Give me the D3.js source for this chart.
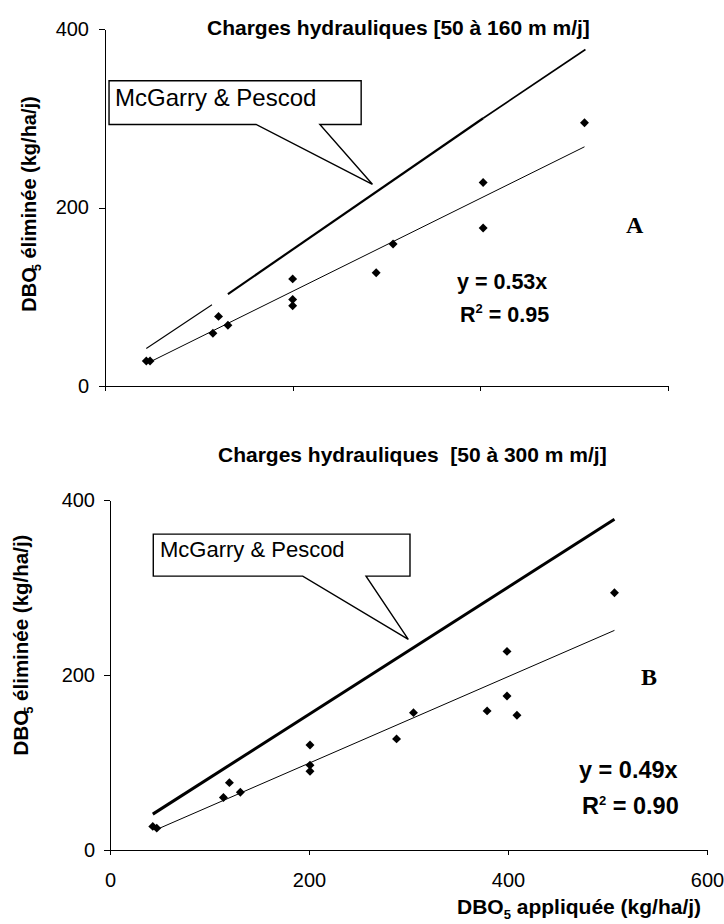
<!DOCTYPE html>
<html><head><meta charset="utf-8">
<script src="https://cdn.jsdelivr.net/npm/d3@7"></script>
<style>
body{margin:0;background:#fff}
svg{display:block}
text{fill:#000}
</style>
</head><body>
<svg id="c" width="724" height="924" font-family='"Liberation Sans",Arial,sans-serif'></svg>
<script>
// ---- data ----
const xTicks = [0, 200, 400, 600];
const yTicks = [0, 200, 400];
const xTickLabels = ["0", "200", "400", "600"];
const yTickLabels = ["0", "200", "400"];

const titleA = "Charges hydrauliques [50 à 160 m m/j]";
const titleB = "Charges hydrauliques  [50 à 300 m m/j]";
const refLabel = "McGarry & Pescod";

// panel A observations (DBO5 appliquée, DBO5 éliminée)
const ptsA_x = [44, 48, 115, 121, 131, 200, 200, 200, 289, 307, 403, 403, 511];
const ptsA_y = [28, 28, 59, 78, 68, 120, 97, 90, 127, 159, 228, 177, 295];
// panel B observations
const ptsB_x = [43, 47, 114, 120, 131, 201, 201, 201, 288, 305, 379, 399, 399, 409, 507];
const ptsB_y = [27, 25, 60, 77, 66, 120, 97, 90, 127, 157, 159, 227, 176, 154, 294];

// fitted lines (endpoints)
const trendA_x = [48, 511], trendA_y = [27, 268];
const trendB_x = [50, 507], trendB_y = [25, 251];

// McGarry & Pescod reference line pieces
const mcgA_x = [44, 114, 131, 403, 512], mcgA_y = [42, 91, 103, 300, 377];
const mcgB_x = [43, 507], mcgB_y = [41, 378];

const eqA = ["y = 0.53x", "0.95"];
const eqB = ["y = 0.49x", "0.90"];

// ---- drawing ----
const svg = d3.select("#c");
const F = '"Liberation Sans",Arial,sans-serif';
const SERIF = '"Liberation Serif","Times New Roman",serif';

function panel(o) {
  const g = svg.append("g");
  const x = d3.scaleLinear().domain([0, 600]).range(o.xr);
  const y = d3.scaleLinear().domain([0, 400]).range(o.yr);

  // axes
  const ya = d3.axisLeft(y).tickValues(yTicks).tickSize(6).tickSizeOuter(0)
    .tickPadding(o.yPad).tickFormat((d, i) => yTickLabels[i]);
  const yg = g.append("g").attr("transform", `translate(${o.xr[0]},0)`).call(ya);
  const xa = d3.axisBottom(x).tickValues(xTicks).tickSize(5).tickSizeOuter(0)
    .tickPadding(18).tickFormat((d, i) => o.xLabels ? xTickLabels[i] : "");
  const xg = g.append("g").attr("transform", `translate(0,${o.yr[0]})`).call(xa);
  [yg, xg].forEach(a => {
    a.attr("font-family", F).attr("font-size", 20);
    a.selectAll("path,line").attr("stroke", "#000").attr("stroke-width", 1).attr("shape-rendering", "crispEdges");
    a.selectAll("text").attr("fill", "#000");
  });

  // reference line pieces
  const line = d3.line().x(d => x(d[0])).y(d => y(d[1]));
  o.mcg.forEach(seg => {
    g.append("path").attr("d", line(seg.pts)).attr("fill", "none")
      .attr("stroke", "#000").attr("stroke-width", seg.w);
  });
  // trend line
  g.append("path").attr("d", line(o.trend)).attr("fill", "none")
    .attr("stroke", "#000").attr("stroke-width", 1);

  // points
  const sym = d3.symbol().type(d3.symbolSquare).size(40);
  g.selectAll("path.pt").data(o.pts).join("path").attr("class", "pt")
    .attr("d", sym)
    .attr("transform", d => `translate(${x(d[0])},${y(d[1])}) rotate(45)`)
    .attr("fill", "#000");

  // callout (in data units)
  const c = o.call;
  const p = `M${x(c.x1)},${y(c.y1)}H${x(c.x2)}V${y(c.y2)}H${x(c.b2)}L${x(c.tx)},${y(c.ty)}L${x(c.b1)},${y(c.y2)}H${x(c.x1)}Z`;
  g.append("path").attr("d", p).attr("fill", "#fff").attr("stroke", "#000").attr("stroke-width", 1.4);
  g.append("text").attr("x", o.callText[0]).attr("y", o.callText[1])
    .attr("font-size", o.callText[2]).text(refLabel);

  // title
  g.append("text").attr("x", o.title[0]).attr("y", o.title[1]).attr("font-size", 21)
    .attr("font-weight", "bold").style("white-space", "pre").text(o.title[2]);

  // y label
  const yl = g.append("text").attr("transform", `translate(${o.yl[0]},${o.yl[1]}) rotate(-90)`)
    .attr("text-anchor", "middle").attr("font-size", o.yl[2]).attr("font-weight", "bold");
  yl.append("tspan").text("DBO");
  yl.append("tspan").attr("font-size", 13).attr("dy", 5).attr("dx", -4).text("5");
  yl.append("tspan").attr("dy", -5).text(" éliminée (kg/ha/j)");

  // equation
  g.append("text").attr("x", o.eq[0]).attr("y", o.eq[1]).attr("font-size", o.eq[4])
    .attr("font-weight", "bold").text(o.eqText[0]);
  const e2 = g.append("text").attr("x", o.eq[2]).attr("y", o.eq[3]).attr("font-size", o.eq[4])
    .attr("font-weight", "bold");
  e2.append("tspan").text("R");
  e2.append("tspan").attr("font-size", 13).attr("dy", -9).text("2");
  e2.append("tspan").attr("dy", 9).text(" = " + o.eqText[1]);

  // panel letter
  g.append("text").attr("x", o.letter[0]).attr("y", o.letter[1]).attr("font-size", 24)
    .attr("font-weight", "bold").attr("font-family", SERIF)
    .text(o.letter[2]);
  return {x, y, g};
}

const zip = (a, b) => a.map((v, i) => [v, b[i]]);

panel({
  xr: [105, 668], yr: [386, 29], yPad: 10, xLabels: false,
  pts: zip(ptsA_x, ptsA_y),
  trend: zip(trendA_x, trendA_y),
  mcg: [
    {pts: zip(mcgA_x.slice(0, 2), mcgA_y.slice(0, 2)), w: 1.1},
    {pts: zip(mcgA_x.slice(2, 4), mcgA_y.slice(2, 4)), w: 2.2},
    {pts: zip(mcgA_x.slice(3, 5), mcgA_y.slice(3, 5)), w: 1.6}
  ],
  call: {x1: 4.3, x2: 273, y1: 342, y2: 293, b1: 161, b2: 229, tx: 285, ty: 226},
  callText: [115, 106, 24],
  title: [207, 34.5, titleA],
  yl: [36, 204, 20],
  eq: [457, 289, 460, 322, 21.5], eqText: eqA,
  letter: [626, 233, "A"]
});

panel({
  xr: [110, 707], yr: [850, 500], yPad: 9, xLabels: true,
  pts: zip(ptsB_x, ptsB_y),
  trend: zip(trendB_x, trendB_y),
  mcg: [{pts: zip(mcgB_x, mcgB_y), w: 3}],
  call: {x1: 43.5, x2: 301.5, y1: 361, y2: 313, b1: 193.7, b2: 257.3, tx: 299.8, ty: 240.8},
  callText: [160, 557, 22],
  title: [218, 462, titleB],
  yl: [28, 645, 20.5],
  eq: [579, 778, 582, 814, 23.5], eqText: eqB,
  letter: [641, 685, "B"]
});

// x axis title (bottom)
const xl = svg.append("text").attr("x", 457).attr("y", 914).attr("font-size", 21).attr("font-weight", "bold");
xl.append("tspan").text("DBO");
xl.append("tspan").attr("font-size", 13).attr("dy", 5).text("5");
xl.append("tspan").attr("dy", -5).text(" appliquée (kg/ha/j)");
</script>
</body></html>
